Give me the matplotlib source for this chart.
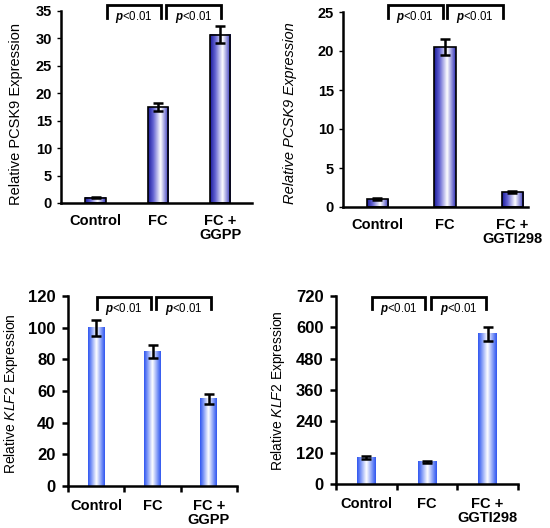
import numpy as np
import matplotlib
matplotlib.use("Agg")
import matplotlib.pyplot as plt
from matplotlib.colors import LinearSegmentedColormap
from matplotlib.transforms import blended_transform_factory

plt.rcParams['font.family'] = ['Liberation Sans', 'DejaVu Sans']
plt.rcParams['mathtext.fontset'] = 'custom'
plt.rcParams['mathtext.rm'] = 'Liberation Sans'
plt.rcParams['mathtext.it'] = 'Liberation Sans:italic'
plt.rcParams['mathtext.bf'] = 'Liberation Sans:bold'
plt.rcParams['mathtext.bfit'] = 'Liberation Sans:italic:bold'

# ---- data ----
cats_ggpp = ["Control", "FC", "FC +\nGGPP"]
cats_ggti = ["Control", "FC", "FC +\nGGTI298"]

pcsk9_ggpp = [1.0, 17.5, 30.7]
pcsk9_ggpp_err = [0.15, 0.8, 1.5]
pcsk9_ggti = [1.0, 20.5, 1.9]
pcsk9_ggti_err = [0.1, 1.0, 0.12]
klf2_ggpp = [100, 85, 55]
klf2_ggpp_err = [5, 4, 3]
klf2_ggti = [100, 85, 575]
klf2_ggti_err = [6, 5, 28]

yticks_a = [0, 5, 10, 15, 20, 25, 30, 35]
yticks_b = [0, 5, 10, 15, 20, 25]
yticks_c = [0, 20, 40, 60, 80, 100, 120]
yticks_d = [0, 120, 240, 360, 480, 600, 720]
pval = r"$\mathbfit{p}$<0.01"

W, H = 550, 528
fig = plt.figure(figsize=(W / 100, H / 100), dpi=100)


def rect(l, r, t, b):
    return [l / W, 1 - b / H, (r - l) / W, (b - t) / H]


cmap_top = LinearSegmentedColormap.from_list(
    "top", [(0, "#1a1a9a"), (0.25, "#6262d2"), (0.6, "#ffffff"), (1, "#2c2cb8")])
cmap_bot = LinearSegmentedColormap.from_list(
    "bot", [(0, "#2f55f0"), (0.12, "#5a7af4"), (0.5, "#ffffff"), (0.88, "#5a7af4"), (1, "#2f55f0")])


def panel(r, cats, vals, errs, yticks, xlim, width, cmap, edge, top_row, brackets, br_y):
    ax = fig.add_axes(r)
    x = np.arange(len(cats))
    bars = ax.bar(x, vals, width, color="none", edgecolor=edge,
                  linewidth=1.2 if edge != "none" else 0, zorder=3)
    grad = np.linspace(0, 1, 256).reshape(1, -1)
    for b in bars:
        bx, by, bw, bh = b.get_x(), b.get_y(), b.get_width(), b.get_height()
        ax.imshow(grad, extent=[bx, bx + bw, by, by + bh], cmap=cmap,
                  aspect="auto", zorder=2, interpolation="bilinear")
    ax.errorbar(x, vals, yerr=errs, fmt="none", ecolor="black",
                elinewidth=1.8, capsize=3.5, capthick=1.8, zorder=4)
    ax.set_xlim(*xlim)
    ax.set_ylim(yticks[0], yticks[-1])
    ax.set_yticks(yticks)
    ax.set_xticks(x)
    ax.set_xticklabels(cats, fontweight="bold", linespacing=1.0)
    for s in ["top", "right"]:
        ax.spines[s].set_visible(False)
    for s in ["left", "bottom"]:
        ax.spines[s].set_linewidth(1.8)
    if top_row:
        ax.tick_params(axis="x", length=0, pad=8, labelsize=10.5)
        ax.tick_params(axis="y", length=3, width=1, pad=3.5, labelsize=10.5)
    else:
        ax.tick_params(axis="x", which="major", length=0, pad=9, labelsize=10.5)
        ax.set_xticks([-0.5, 0.5, 1.5, 2.5], minor=True)
        ax.tick_params(axis="x", which="minor", length=4, width=1.8, direction="out")
        ax.tick_params(axis="y", length=4, width=1.8, pad=5, labelsize=12)
    for lab in ax.get_yticklabels():
        lab.set_fontweight("bold")
    tr = blended_transform_factory(ax.transData, ax.transAxes)
    ytop, ytip = br_y
    for (x0, x1) in brackets:
        ax.plot([x0, x0, x1, x1], [ytip, ytop, ytop, ytip], color="black",
                lw=2.0, transform=tr, clip_on=False, solid_joinstyle="miter")
        ax.text((x0 + x1) / 2, ytip + 0.003, pval, transform=tr, ha="center",
                va="center", fontsize=8.3)
    return ax


panel(rect(61, 252, 11, 203), cats_ggpp, pcsk9_ggpp, pcsk9_ggpp_err, yticks_a,
      (-0.554, 2.51), 0.33, cmap_top, "black", True,
      [(0.18, 1.05), (1.13, 2.02)], (1.031, 0.965))
panel(rect(343, 528, 12, 207), cats_ggti, pcsk9_ggti, pcsk9_ggti_err, yticks_b,
      (-0.51, 2.23), 0.32, cmap_top, "black", True,
      [(0.15, 0.97), (1.03, 1.86)], (1.036, 0.97))
panel(rect(68, 237, 296, 486), cats_ggpp, klf2_ggpp, klf2_ggpp_err, yticks_c,
      (-0.5, 2.5), 0.30, cmap_bot, "none", False,
      [(0.01, 0.97), (1.06, 2.04)], (0.995, 0.93))
panel(rect(336, 518, 296, 484), cats_ggti, klf2_ggti, klf2_ggti_err, yticks_d,
      (-0.5, 2.5), 0.31, cmap_bot, "none", False,
      [(0.1, 0.97), (1.07, 1.98)], (0.995, 0.93))


def ylab(x, y, s, size, **kw):
    fig.text(x / W, 1 - y / H, s, rotation=90, ha="center", va="center",
             fontsize=size, **kw)


ylab(16, 114, "Relative PCSK9 Expression", 10.5)
ylab(290, 113, "Relative PCSK9 Expression", 10.5, style="italic")
ylab(11, 394, r"Relative $\mathit{KLF2}$ Expression", 10)
ylab(278, 391, r"Relative $\mathit{KLF2}$ Expression", 10)

fig.savefig("out.png", dpi=100)
